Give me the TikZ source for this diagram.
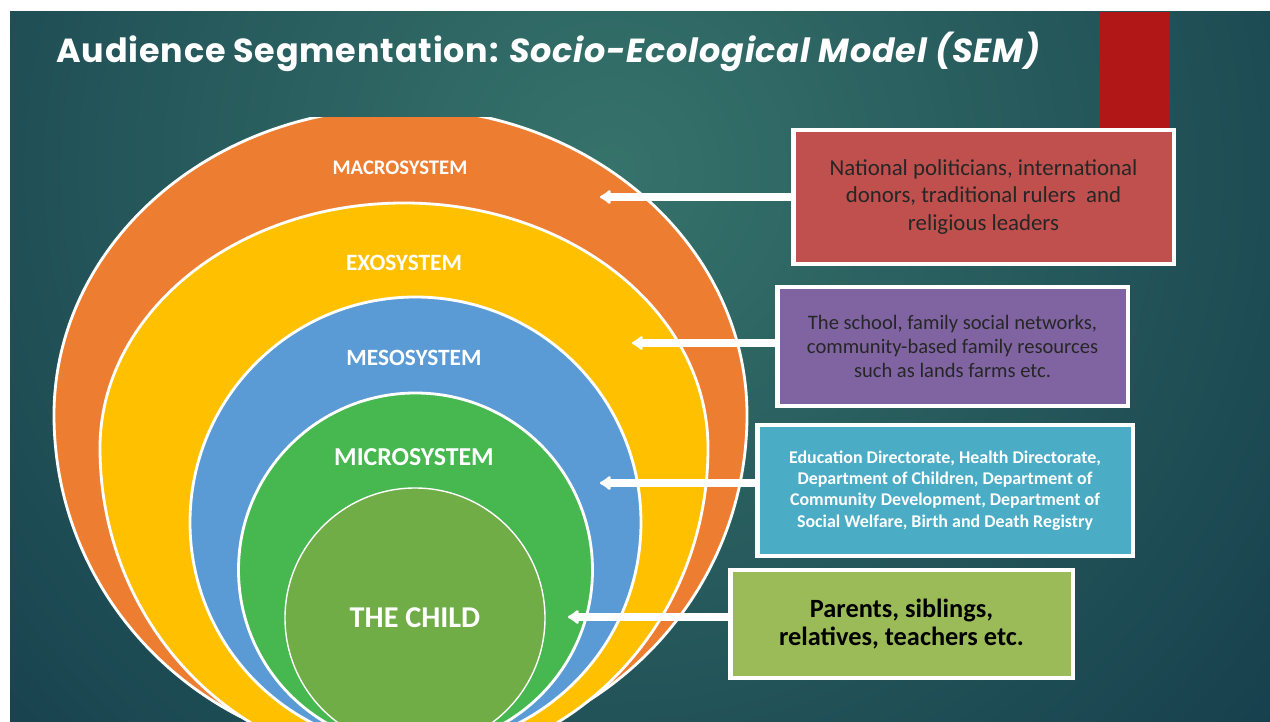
\documentclass[tikz,border=0pt]{standalone}
\usepackage{fontspec}
\setmainfont{Carlito}
\newfontfamily\headfont[LetterSpace=2.5]{Poppins}
\usetikzlibrary{
    arrows.meta,
    positioning
}

\definecolor{slideDark}{HTML}{123949}
\definecolor{slideLight}{HTML}{36736B}
\definecolor{macroOrange}{HTML}{ED7D31}
\definecolor{exoYellow}{HTML}{FFC000}
\definecolor{mesoBlue}{HTML}{5B9BD5}
\definecolor{microGreen}{HTML}{47B74F}
\definecolor{childGreen}{HTML}{70AD47}
\definecolor{barRed}{HTML}{B01716}
\definecolor{boxRed}{HTML}{C0504D}
\definecolor{boxPurple}{HTML}{8064A2}
\definecolor{boxBlue}{HTML}{4BACC6}
\definecolor{boxGreen}{HTML}{9BBB59}

% ring with a flatter top half and a rounder bottom half
\newcommand\eggpath[5]{(#1-#3,#2) arc[start angle=180,end angle=360,x radius=#3,y radius=#4] arc[start angle=0,end angle=180,x radius=#3,y radius=#5] -- cycle}

\tikzset{
    band/.style={draw=white, line width=1.6pt},
    ringlabel/.style={text=white, font=\bfseries\fontsize{#1}{#1}\selectfont, inner sep=0pt},
    infobox/.style={draw=white, line width=2.8pt, align=center, inner sep=0pt},
    pointer/.style={draw=white, line width=4.5pt, -{Latex[round,length=7pt,width=10pt]}}
}

\begin{document}
\begin{tikzpicture}[x=0.02cm, y=-0.02cm]
    \useasboundingbox (0,0) rectangle (1270,722);
    \fill[white] (0,0) rectangle (1270,722);

    % slide background
    \begin{scope}
        \clip (10,12) rectangle (1270,722);
        \fill[slideDark] (10,12) rectangle (1270,722);
        \shade[inner color=slideLight, outer color=slideDark] (610,170) circle[radius=980];
        \fill[barRed] (1100,12) rectangle (1170,128);
    \end{scope}

    \node[anchor=west, text=white, font=\headfont\bfseries\fontsize{19}{23}\selectfont, inner sep=0pt] (title) at (56,52)
        {Audience Segmentation: \textit{Socio-Ecological Model (SEM)}};

    % the nested rings
    \begin{scope}
        \clip (10,118) rectangle (1270,722);
        \fill[macroOrange, band] \eggpath{400.5}{415}{346.5}{307}{340};
        \fill[exoYellow, band] \eggpath{404}{448}{304}{245}{318};
        \fill[mesoBlue, band] (415.5,522.5) circle[radius=225.5];
        \fill[microGreen, band] (415.5,570) circle[radius=177];
        \fill[childGreen, draw=white, line width=0.8pt] (415,618) circle[radius=130];
    \end{scope}

    \node[ringlabel=11.8] (macroLabel) at (400,168) {MACROSYSTEM};
    \node[ringlabel=13.3] (exoLabel) at (404,263) {EXOSYSTEM};
    \node[ringlabel=13.3] (mesoLabel) at (414,358) {MESOSYSTEM};
    \node[ringlabel=14.7] (microLabel) at (414,457) {MICROSYSTEM};
    \node[ringlabel=17.2] (childLabel) at (415,618) {THE CHILD};

    % who sits in each ring
    \node[infobox, fill=boxRed, minimum width=7.62cm, minimum height=2.68cm,
          text=black!85, font=\fontsize{13}{15.9}\selectfont] (macroBox) at (983.5,197)
        {National politicians, international\\donors, traditional rulers\ \ and\\religious leaders};
    \node[infobox, fill=boxPurple, minimum width=7.02cm, minimum height=2.38cm,
          text=black!85, font=\fontsize{11.7}{13.9}\selectfont] (exoBox) at (952.5,346.5)
        {The school, family social networks,\\community-based family resources\\such as lands farms etc.};
    \node[infobox, fill=boxBlue, minimum width=7.52cm, minimum height=2.62cm,
          text=white, font=\bfseries\fontsize{10.2}{12.1}\selectfont] (mesoBox) at (945,490.5)
        {Education Directorate, Health Directorate,\\Department of Children, Department of\\Community Development, Department of\\Social Welfare, Birth and Death Registry};
    \node[infobox, fill=boxGreen, minimum width=6.86cm, minimum height=2.16cm,
          text=black, font=\bfseries\fontsize{15}{16.4}\selectfont] (microBox) at (901.5,624)
        {Parents, siblings,\\relatives, teachers etc.};

    \coordinate (macroTip) at (600,197);
    \coordinate (exoTip) at (632,343);
    \coordinate (mesoTip) at (600,483);
    \coordinate (microTip) at (568,617);

    \draw[pointer] (macroBox.west) -- (macroTip);
    \draw[pointer] (exoBox.west |- exoTip) -- (exoTip);
    \draw[pointer] (mesoBox.west |- mesoTip) -- (mesoTip);
    \draw[pointer] (microBox.west |- microTip) -- (microTip);
\end{tikzpicture}
\end{document}
